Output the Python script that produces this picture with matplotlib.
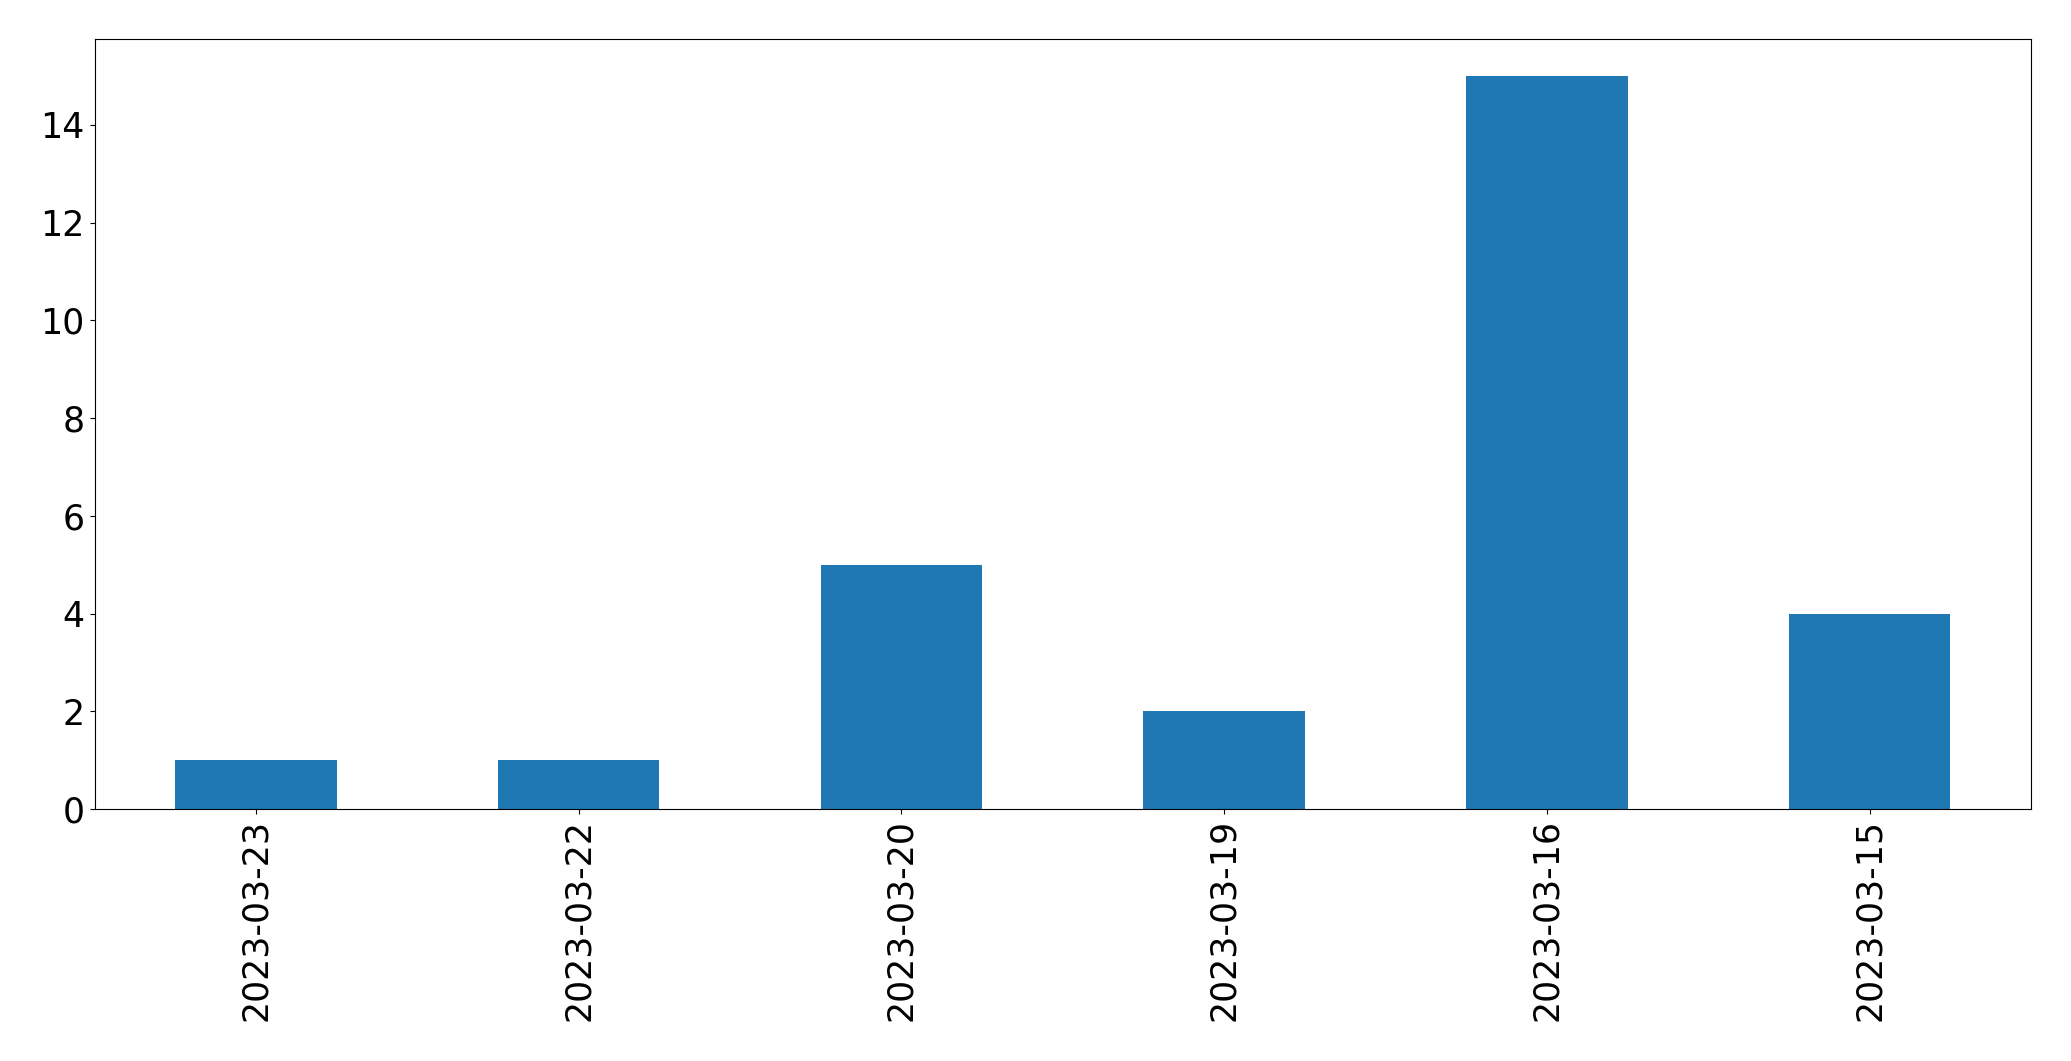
import matplotlib
matplotlib.use("Agg")
import matplotlib.pyplot as plt

dates = ["2023-03-23", "2023-03-22", "2023-03-20", "2023-03-19", "2023-03-16", "2023-03-15"]
counts = [1, 1, 5, 2, 15, 4]

fig = plt.figure(figsize=(20.71, 10.61), dpi=100)
ax = fig.add_axes([94.5/2071, 1 - 809/1061, (2031 - 94.5)/2071, (809 - 39.3)/1061])
x = list(range(len(dates)))
ax.bar(x, counts, width=0.5, color="#1f77b4")
ax.set_xlim(-0.5, len(dates) - 0.5)
ax.set_xticks(x)
ax.set_xticklabels(dates, rotation=90, fontsize=25)
ax.tick_params(axis="y", labelsize=25)
ax.set_yticks([0, 2, 4, 6, 8, 10, 12, 14])
ax.set_ylim(0, 15.75)
fig.savefig("out.png", dpi=100)
